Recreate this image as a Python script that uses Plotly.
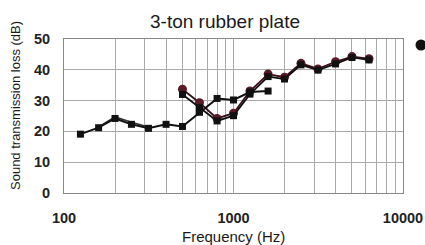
import plotly.graph_objects as go

freq_low = [125, 160, 200, 250, 315, 400, 500, 630, 800, 1000, 1250, 1600]
loss_low = [19.1, 21.2, 24.2, 22.3, 21.0, 22.3, 21.6, 26.2, 30.7, 30.2, 32.8, 33.1]

freq_dbl = [160, 200, 250, 315]
loss_dbl = [21.5, 24.7, 23.0, 21.4]

freq_high = [500, 630, 800, 1000, 1250, 1600, 2000, 2500, 3150, 4000, 5000, 6300]
loss_red = [33.7, 29.3, 24.2, 25.9, 33.1, 38.6, 37.6, 42.1, 40.3, 42.6, 44.3, 43.6]
loss_blk = [32.0, 27.7, 23.4, 25.1, 32.1, 37.8, 37.0, 41.6, 39.9, 41.9, 44.0, 43.2]

y_ticks = [0, 10, 20, 30, 40, 50]
x_ticks = [100, 1000, 10000]
x_tick_labels = ["<b>100</b>", "<b>1000</b>", "<b>10000</b>"]
y_tick_labels = ["<b>%d</b>" % v for v in y_ticks]

fig = go.Figure()
fig.add_trace(go.Scatter(x=freq_dbl, y=loss_dbl, mode="lines",
                         line=dict(color="#333333", width=1.5), showlegend=False))
fig.add_trace(go.Scatter(x=freq_high, y=loss_red, mode="lines+markers",
                         line=dict(color="#3a1018", width=1.8),
                         marker=dict(symbol="circle", size=9, color="#5a1a28"),
                         showlegend=False))
fig.add_trace(go.Scatter(x=freq_high, y=loss_blk, mode="lines+markers",
                         line=dict(color="#111111", width=1.8),
                         marker=dict(symbol="square", size=7, color="#111111"),
                         showlegend=False))
fig.add_trace(go.Scatter(x=freq_low, y=loss_low, mode="lines+markers",
                         line=dict(color="#111111", width=2),
                         marker=dict(symbol="square", size=7, color="#111111"),
                         showlegend=False))

# the page margin is removed below, so figure pixels map 1:1 to the window
pl, pt, pw, ph = 64, 39, 339, 154
W, H = 425, 245

fig.update_layout(
    width=W, height=H,
    margin=dict(l=pl, r=W - pl - pw, t=pt, b=H - pt - ph),
    paper_bgcolor="white", plot_bgcolor="white",
    font=dict(family="Liberation Sans, Arial, sans-serif", color="#1a1a1a", size=14),
    title=dict(text="3-ton rubber plate", x=225 / W, xref="container",
               xanchor="center", y=1 - 21 / H, yref="container", yanchor="middle",
               font=dict(size=19, color="#1a1a1a")),
    xaxis=dict(type="log", range=[2, 4], tickvals=x_ticks, ticktext=x_tick_labels,
               showgrid=True, gridcolor="#aaaaaa", gridwidth=1,
               minor=dict(showgrid=True, gridcolor="#aaaaaa", gridwidth=1,
                          dtick="D1", ticks=""),
               showline=True, linecolor="#888888", linewidth=1, mirror=True,
               ticks="", ticklabelstandoff=12, zeroline=False, automargin=False,
               tickfont=dict(size=14.5, color="#222222")),
    yaxis=dict(range=[0, 50], tickvals=y_ticks, ticktext=y_tick_labels,
               showgrid=True, gridcolor="#aaaaaa",
               gridwidth=1, showline=True, linecolor="#888888", linewidth=1, mirror=True,
               ticks="", ticklabelstandoff=10, zeroline=False, automargin=False,
               tickfont=dict(size=14.5, color="#222222")),
    annotations=[
        dict(text="Frequency (Hz)", x=(233 - pl) / pw, y=(pt + ph - 237) / ph,
             xref="paper", yref="paper", xanchor="center", yanchor="middle",
             showarrow=False, font=dict(size=15, color="#1a1a1a")),
        dict(text="Sound transmission loss (dB)", x=(15 - pl) / pw,
             y=(pt + ph - 106) / ph, xref="paper", yref="paper",
             xanchor="center", yanchor="middle", showarrow=False,
             textangle=-90, font=dict(size=13, color="#1a1a1a")),
    ],
    shapes=[dict(type="circle", xref="paper", yref="paper", xsizemode="pixel",
                 ysizemode="pixel", xanchor=(421 - pl) / pw, yanchor=(pt + ph - 45) / ph,
                 x0=-5.5, x1=5.5, y0=-5.5, y1=5.5, fillcolor="#111111",
                 line=dict(width=0))],
)

fig.write_html(
    "out.html",
    config={"displayModeBar": False},
    post_script="document.body.style.margin='0';"
                "document.documentElement.style.overflow='hidden';"
                "document.body.style.overflow='hidden';",
)
